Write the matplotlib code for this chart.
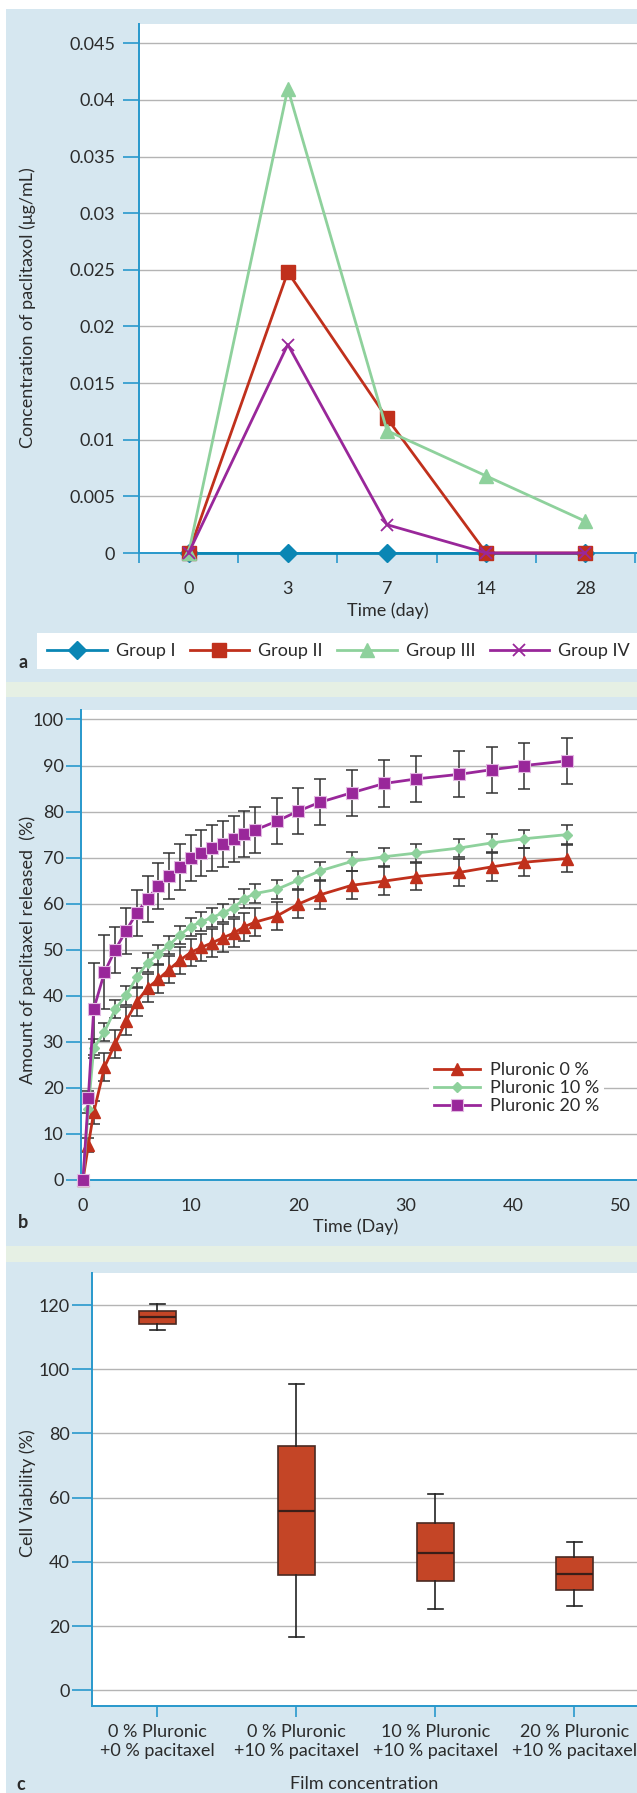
import numpy as np
import matplotlib
matplotlib.use('Agg')
import matplotlib.pyplot as plt
from matplotlib.patches import Rectangle

plt.rcParams['font.family'] = ['Lato', 'DejaVu Sans']
plt.rcParams['font.size'] = 13
plt.rcParams['text.color'] = '#2b2b2b'
plt.rcParams['axes.labelcolor'] = '#2b2b2b'
plt.rcParams['xtick.color'] = '#2898cc'
plt.rcParams['ytick.color'] = '#2898cc'
plt.rcParams['xtick.labelcolor'] = '#2b2b2b'
plt.rcParams['ytick.labelcolor'] = '#2b2b2b'

# ---- panel a : concentration vs time ----
days_a = ['0', '3', '7', '14', '28']
group1 = [0, 0, 0, 0, 0]
group2 = [0, 0.0248, 0.0119, 0, 0]
group3 = [0, 0.0410, 0.0108, 0.0068, 0.0028]
group4 = [0, 0.0184, 0.0025, 0, 0]
group_names = ['Group I', 'Group II', 'Group III', 'Group IV']

# ---- panel b : release profile ----
days_b = [0, 0.5, 1, 2, 3, 4, 5, 6, 7, 8, 9, 10, 11, 12, 13, 14, 15, 16,
          18, 20, 22, 25, 28, 31, 35, 38, 41, 45]
p0 = [0, 7.6, 14.7, 24.5, 29.6, 34.5, 38.7, 41.7, 43.6, 45.7, 47.7, 49.4, 50.5, 51.5,
      52.6, 53.6, 55.0, 56.0, 57.3, 59.9, 61.9, 64.0, 64.9, 65.9, 66.8, 68.0, 69.0, 69.8]
p10 = [0, 15.5, 28.6, 32.2, 37.1, 40.1, 44.0, 47.2, 49.0, 51.0, 53.2, 55.0, 56.1, 57.0,
       58.0, 59.1, 61.1, 62.2, 63.1, 65.1, 67.1, 69.2, 70.2, 71.0, 72.1, 73.2, 74.1, 75.0]
p20 = [0, 17.9, 37.1, 45.1, 50.0, 54.1, 58.0, 61.0, 63.9, 66.0, 68.0, 70.0, 71.1, 72.1,
       73.0, 74.1, 75.2, 76.0, 77.9, 80.1, 82.0, 84.1, 86.1, 87.1, 88.1, 89.1, 90.0, 91.0]
err0 = [0, 1.5, 2.5] + [3] * 25
err10 = [0, 1, 2] + [2] * 25
err20 = [0, 1.5, 10, 8] + [5] * 24
pluronic_names = ['Pluronic 0 %', 'Pluronic 10 %', 'Pluronic 20 %']

# ---- panel c : cell viability boxes ----
film_labels = ['0 % Pluronic\n+0 % pacitaxel', '0 % Pluronic\n+10 % pacitaxel',
               '10 % Pluronic\n+10 % pacitaxel', '20 % Pluronic\n+10 % pacitaxel']
whislo = [112.3, 16.5, 25.3, 26.2]
q1 = [114.2, 35.9, 34.1, 31.2]
med = [116.2, 56.0, 42.9, 36.3]
q3 = [118.3, 76.2, 52.2, 41.4]
whishi = [120.3, 95.3, 61.0, 46.1]

W, H = 637, 1793
BLUE_BG = '#d6e7f0'
GREEN_BG = '#e6f0e4'
SPINE = '#2898cc'
GRID = '#b4b4b4'
PX = 0.72  # points per pixel at 100 dpi


def fbox(l, t, r, b):
    return [l / W, 1 - b / H, (r - l) / W, (b - t) / H]


def fpt(x, y):
    return x / W, 1 - y / H


fig = plt.figure(figsize=(W / 100, H / 100), dpi=100)
fig.patch.set_facecolor('white')

for (t, b, c) in [(9, 682, BLUE_BG), (682, 697, GREEN_BG), (697, 1246, BLUE_BG),
                  (1246, 1262, GREEN_BG), (1262, 1793, BLUE_BG)]:
    x0, y0, w, h = fbox(6, t, W, b)
    fig.patches.append(Rectangle((x0, y0), w, h, transform=fig.transFigure,
                                 facecolor=c, edgecolor='none', zorder=-10))
# white legend strip of panel a
x0, y0, w, h = fbox(37, 633, W, 669)
fig.patches.append(Rectangle((x0, y0), w, h, transform=fig.transFigure,
                             facecolor='white', edgecolor='none', zorder=-9))


def style_axes(ax):
    for s in ['top', 'right']:
        ax.spines[s].set_visible(False)
    for s in ['left', 'bottom']:
        ax.spines[s].set_color(SPINE)
        ax.spines[s].set_linewidth(1.4)
    ax.yaxis.grid(True, color=GRID, lw=1.0)
    ax.set_axisbelow(True)


# ================= panel a =================
axa = fig.add_axes(fbox(139, 24, W, 553))
style_axes(axa)
xa = np.arange(len(days_a))
cols_a = ['#0a86b4', '#c0301c', '#8ed19c', '#99279a']
marks_a = [dict(marker='D', ms=9), dict(marker='s', ms=10),
           dict(marker='^', ms=10), dict(marker='x', ms=9, mew=1.3)]
for i, (vals, c, mk) in enumerate(zip([group1, group2, group3, group4], cols_a, marks_a)):
    axa.plot(xa, vals, color=c, lw=2.0, mfc=c, mec=c, label=group_names[i],
             clip_on=False, zorder=3 + i, **mk)
axa.set_xlim(-0.5, 4.52)
axa.set_ylim(0, 0.0467)
axa.set_yticks(np.arange(0, 0.0451, 0.005))
axa.set_yticklabels(['0', '0.005', '0.01', '0.015', '0.02', '0.025', '0.03', '0.035', '0.04', '0.045'])
axa.set_xticks(xa)
axa.set_xticklabels(days_a)
axa.set_xticks(np.arange(-0.5, 4.6, 1), minor=True)
axa.tick_params(axis='x', which='major', length=0, pad=20)
axa.tick_params(axis='x', which='minor', length=10 * PX, width=1.2, direction='out')
axa.tick_params(axis='y', length=16 * PX, width=1.2, pad=8 * PX)
fig.text(*fpt(388, 611), 'Time (day)', ha='center', va='center')
fig.text(*fpt(28, 308), 'Concentration of paclitaxol (μg/mL)', rotation=90,
         ha='center', va='center')
fig.legend(handles=axa.get_lines(), loc='center left', bbox_to_anchor=fpt(38, 651),
           ncol=4, frameon=False, handlelength=3.3, handletextpad=0.5,
           columnspacing=0.8, borderpad=0, fontsize=13)
fig.text(*fpt(23, 663), 'a', weight='bold', ha='center', va='center')

# ================= panel b =================
axb = fig.add_axes(fbox(80.5, 710, W, 1180))
style_axes(axb)
cols_b = ['#c0301c', '#8ed19c', '#99279a']
marks_b = [dict(marker='^', ms=8, mec='#c0301c'),
           dict(marker='D', ms=5, mec='#8ed19c'),
           dict(marker='s', ms=9, mec='#e2b8e2', mew=0.8)]
for i, (vals, errs) in enumerate(zip([p0, p10, p20], [err0, err10, err20])):
    axb.errorbar(days_b, vals, yerr=errs, fmt='none', ecolor='#333333', elinewidth=1.1,
                 capsize=4, capthick=1.1, zorder=2 + i)
for i, vals in enumerate([p0, p10, p20]):
    axb.plot(days_b, vals, color=cols_b[i], lw=2.0, mfc=cols_b[i], label=pluronic_names[i],
             clip_on=False, zorder=5 + i, **marks_b[i])
axb.set_xlim(-0.23, 51.5)
axb.set_ylim(0, 102.06)
axb.set_yticks(np.arange(0, 101, 10))
axb.set_xticks(np.arange(0, 51, 10))
axb.tick_params(axis='x', length=0, pad=13)
axb.tick_params(axis='y', length=15 * PX, width=1.2, pad=2 * PX)
axb.legend(loc='center left', bbox_to_anchor=fpt(420, 1088),
           bbox_transform=fig.transFigure, frameon=True, fancybox=False,
           facecolor='white', edgecolor='none', framealpha=1,
           handlelength=2.5, handletextpad=0.55, labelspacing=0.12,
           borderpad=0.3, fontsize=13)
fig.text(*fpt(356, 1227), 'Time (Day)', ha='center', va='center')
fig.text(*fpt(28, 950), 'Amount of paclitaxel released  (%)', rotation=90,
         ha='center', va='center')
fig.text(*fpt(23, 1222), 'b', weight='bold', ha='center', va='center')

# ================= panel c =================
axc = fig.add_axes(fbox(91.7, 1273, W, 1706.3))
style_axes(axc)
stats = []
for i in range(len(film_labels)):
    stats.append(dict(whislo=whislo[i], q1=q1[i], med=med[i], q3=q3[i], whishi=whishi[i],
                      fliers=[], label=film_labels[i]))
xc = np.arange(len(film_labels))
axc.bxp(stats, positions=xc, widths=0.272, capwidths=0.11, patch_artist=True,
        showfliers=False,
        boxprops=dict(facecolor='#c44526', edgecolor='#4a2a22', lw=1.2),
        medianprops=dict(color='#3a1e18', lw=1.6),
        whiskerprops=dict(color='#222222', lw=1.2),
        capprops=dict(color='#222222', lw=1.2))
axc.set_xlim(-0.473, 3.45)
axc.set_ylim(-5, 130)
axc.set_yticks(np.arange(0, 121, 20))
axc.set_xticks(xc)
axc.set_xticklabels(film_labels, linespacing=1.2)
axc.tick_params(axis='x', length=11 * PX, width=1.2, pad=5)
axc.tick_params(axis='y', length=20 * PX, width=1.2, pad=2 * PX)
fig.text(*fpt(364, 1784), 'Film concentration', ha='center', va='center')
fig.text(*fpt(28, 1493), 'Cell Viability (%)', rotation=90, ha='center', va='center')
fig.text(*fpt(21, 1784), 'c', weight='bold', ha='center', va='center')

fig.savefig('out.png', dpi=100, facecolor=fig.get_facecolor())
